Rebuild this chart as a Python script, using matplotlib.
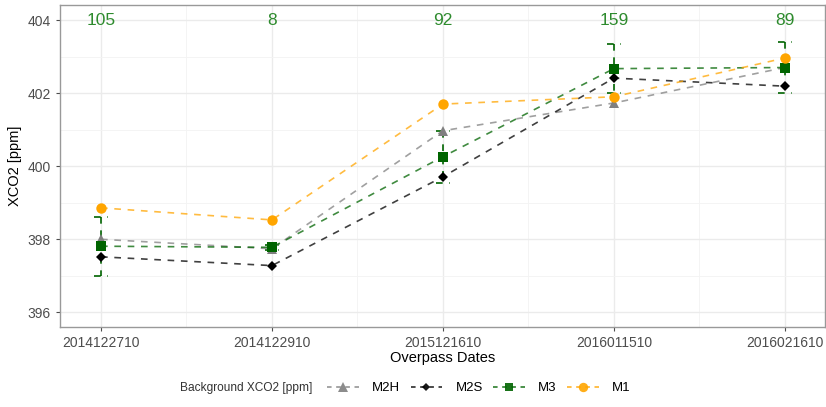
import matplotlib
matplotlib.use('Agg')
import matplotlib.pyplot as plt
import numpy as np
from matplotlib.lines import Line2D

plt.rcParams['font.family'] = ['Liberation Sans', 'DejaVu Sans']

# overpass dates and per-method background XCO2 [ppm]
dates = ['2014122710', '2014122910', '2015121610', '2016011510', '2016021610']
sounding_counts = [105, 8, 92, 159, 89]
m2h = [398.00, 397.74, 400.97, 401.73, 402.70]
m2s = [397.52, 397.28, 399.71, 402.41, 402.19]
m3 = [397.81, 397.78, 400.26, 402.67, 402.70]
m3_err = [0.81, 0.07, 0.71, 0.67, 0.70]
m1 = [398.86, 398.53, 401.70, 401.90, 402.96]

series = [
    ('M2H', m2h, 'grey', '^', 7.5),
    ('M2S', m2s, 'black', 'D', 5.0),
    ('M3', m3, '#006400', 's', 6.8),
    ('M1', m1, 'orange', 'o', 7.5),
]

fig = plt.figure(figsize=(8.26, 4.07), dpi=100)
ax = fig.add_axes([0.0726, 0.1966, 0.9262, 0.7901])

x = np.arange(len(dates))
dash = (0, (4, 4))

# error bars for M3 (dashed, ggplot-style caps)
w = 0.04
for xi, yi, ei in zip(x, m3, m3_err):
    ex = [xi - w, xi + w, np.nan, xi, xi, np.nan, xi - w, xi + w]
    ey = [yi + ei, yi + ei, np.nan, yi + ei, yi - ei, np.nan, yi - ei, yi - ei]
    ax.plot(ex, ey, color='#006400', lw=1.2, linestyle=dash, zorder=2)

for name, vals, col, mk, ms in series:
    ax.plot(x, vals, color=col, lw=1.2, linestyle=dash, alpha=0.75, zorder=3)
    ax.plot(x, vals, linestyle='none', marker=mk, color=col, markersize=ms,
            markeredgewidth=0, zorder=4)

for xi, n in zip(x, sounding_counts):
    ax.text(xi, 404, str(n), ha='center', va='center', color='#2e8b2e',
            fontsize=12.5)

ax.set_xlim(-0.24, 4.235)
ax.set_ylim(395.6, 404.4)
ax.set_xticks(x)
ax.set_xticklabels(dates)
ax.set_xticks(x[:-1] + 0.5, minor=True)
ax.set_yticks([396, 398, 400, 402, 404])
ax.set_yticks([397, 399, 401, 403], minor=True)
ax.grid(True, which='major', color='#ebebeb', lw=1.0, zorder=0)
ax.grid(True, which='minor', color='#f3f3f3', lw=0.6, zorder=0)
ax.set_axisbelow(True)
ax.tick_params(axis='both', which='major', labelsize=10, labelcolor='#4d4d4d',
               color='#4d4d4d', length=3)
ax.tick_params(axis='both', which='minor', length=0)
for sp in ax.spines.values():
    sp.set_color('#999999')
    sp.set_linewidth(1.0)

ax.set_xlabel('Overpass Dates', fontsize=10.5, labelpad=1)
ax.set_ylabel('XCO2 [ppm]', fontsize=10.5, labelpad=4)

# legend along the bottom
handles = [Line2D([0], [0], color=col, lw=1.1, linestyle=(0, (3, 3)), marker=mk,
                  markersize=ms * 0.9, markeredgewidth=0, alpha=0.9)
           for name, vals, col, mk, ms in series]
labels = [s[0] for s in series]
fig.text(180 / 826, 1 - 388 / 407, 'Background XCO2 [ppm]', fontsize=8.6,
         color='#333333', ha='left', va='center')
fig.legend(handles, labels, loc='center left', bbox_to_anchor=(327 / 826, 1 - 388 / 407),
           ncol=4, frameon=False, fontsize=9.5, handlelength=2.4,
           handletextpad=1.0, columnspacing=0.8, borderaxespad=0, borderpad=0)

fig.savefig('out.png', dpi=100)
